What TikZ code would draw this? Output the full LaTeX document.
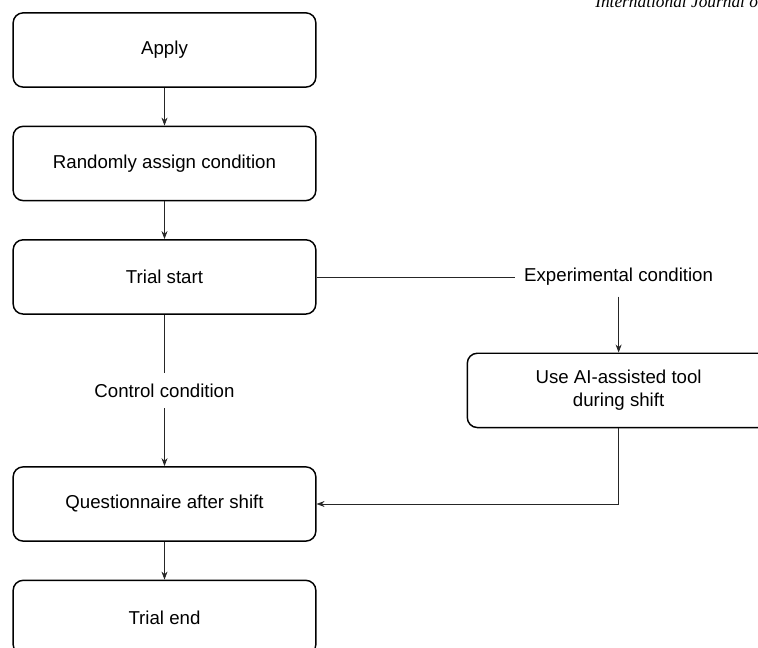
\documentclass[tikz,border=0pt]{standalone}
\usepackage{fontspec}
\setmainfont{Liberation Sans}
\newfontfamily\journalfont{Liberation Serif}
\usetikzlibrary{arrows.meta, positioning}
\tikzset{
  stepbox/.style={rectangle, rounded corners=7.5pt, minimum width=227pt,
    minimum height=55.7pt, align=center, draw, line width=1.1pt,
    font=\fontsize{14}{17.25}\selectfont},
  lbl/.style={inner xsep=6.5pt, inner ysep=8pt, font=\fontsize{14}{17}\selectfont},
  link/.style={line width=0.6pt, color=black!85},
  arrow/.style={link, -{Stealth[length=6pt, width=4.5pt]}},
}
\begin{document}
\begin{tikzpicture}[x=0.75pt, y=-0.75pt, node distance=28.3pt]
  \clip (0,0) rectangle (758,648);
  \node[anchor=base west, inner sep=0pt,
    font=\journalfont\itshape\fontsize{13}{15}\selectfont] (journal) at (595,8)
    {International Journal of};
  % main column
  \node[stepbox] (apply) at (164.5,50) {Apply};
  \node[stepbox, below=of apply] (assign) {Randomly assign condition};
  \node[stepbox, below=of assign] (trial) {Trial start};
  \node[stepbox, below=113.5pt of trial] (quest) {Questionnaire after shift};
  \node[stepbox, below=of quest] (trialend) {Trial end};
  % experimental branch
  \node[stepbox, below right=28.3pt and 112.5pt of trial] (aitool)
    {Use AI-assisted tool\\during shift};
  \node[lbl] (exp) at (trial -| aitool) {Experimental condition};
  \path (trial) -- node[lbl] (ctrl) {Control condition} (quest);
  \draw[arrow] (apply) -- (assign);
  \draw[arrow] (assign) -- (trial);
  \draw[link] (trial) -- (ctrl);
  \draw[arrow] (ctrl) -- (quest);
  \draw[link] (trial) -- (exp);
  \draw[arrow] (exp) -- (aitool);
  \draw[arrow] (aitool.south) |- (quest.east);
  \draw[arrow] (quest) -- (trialend);
\end{tikzpicture}
\end{document}
